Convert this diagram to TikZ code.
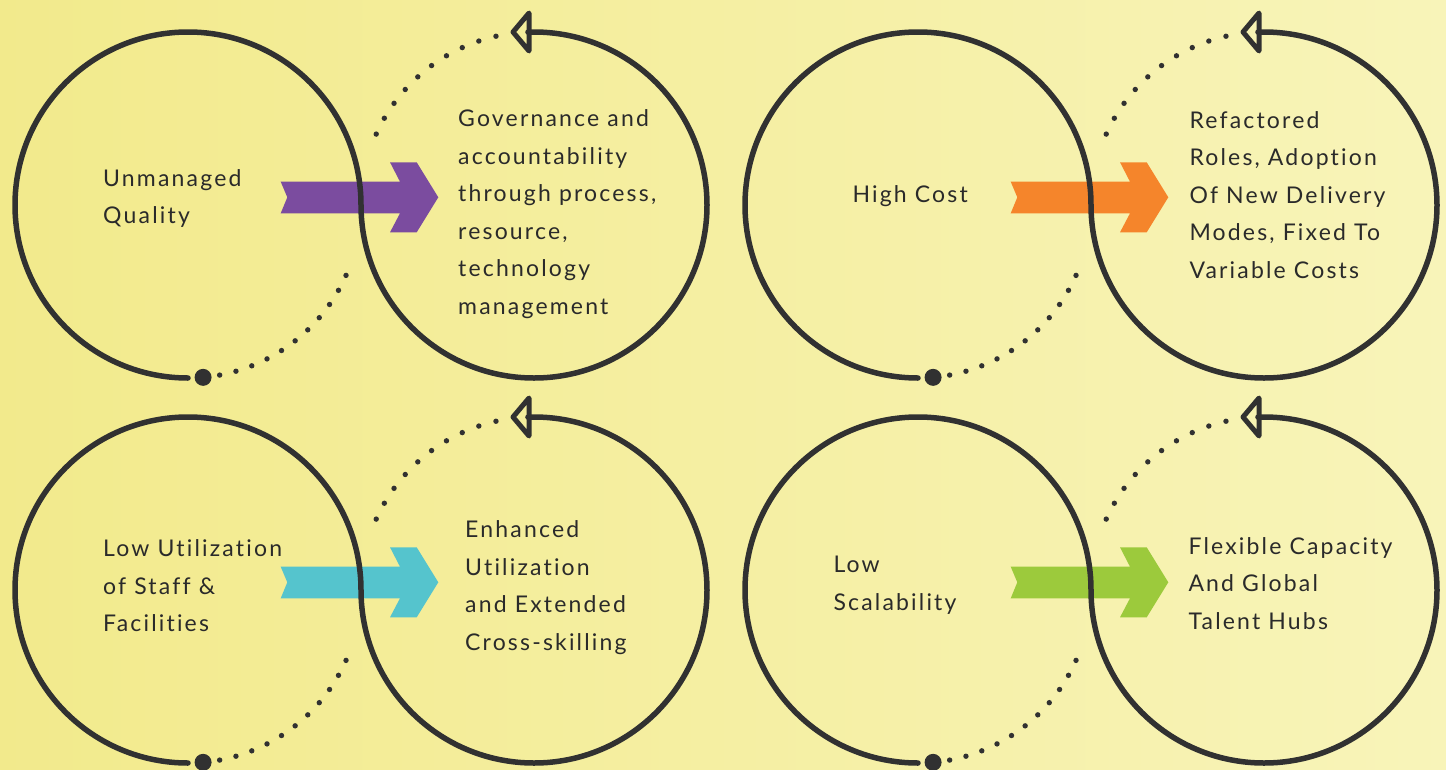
\documentclass[tikz,border=0pt]{standalone}
\usepackage{fontspec}
\setmainfont{Lato}[LetterSpace=9.5,Ligatures=NoCommon]
\usetikzlibrary{calc}
\definecolor{lineGray}{HTML}{313131}
\definecolor{txtGray}{HTML}{2A2A2A}
\definecolor{qqpurple}{HTML}{7B4C9F}
\definecolor{qqorange}{HTML}{F5852B}
\definecolor{qqteal}{HTML}{55C4CD}
\definecolor{qqgreen}{HTML}{9CCA3C}
\definecolor{bgLeft}{HTML}{F2EA8C}
\definecolor{bgRight}{HTML}{F8F4B9}
\tikzset{
  loopline/.style={line width=5.5pt,color=lineGray,line cap=round,line join=round},
  tipline/.style={line width=5pt,color=lineGray,line join=round,line cap=round},
  txt/.style={anchor=base west,align=left,inner sep=0pt,font=\fontsize{23}{37.5}\selectfont,text=txtGray}
}

\begin{document}
\begin{tikzpicture}[x=1pt,y=-1pt]
            \useasboundingbox (0,0) rectangle (1446,769);
            \shade [left color=bgLeft,right color=bgRight] (0,0) rectangle (1446,769);
            % four loops, shifted copies of the first one
            \foreach \dx/\dy/\col in {0/0/qqpurple,730/0/qqorange,0/385/qqteal,730/385/qqgreen}{
              \begin{scope}[shift={(\dx,\dy)}]
                \fill [\col] (280.7,181.7) -- (400,181.7) -- (390,162.3) -- (416.7,162.3) -- (438.3,197.3) -- (416.7,232.3) -- (390,232.3) -- (400,213.3) -- (280.7,213.3) -- (287.3,197.3) -- cycle;
                \draw [loopline] (188,205) ++(90:173) arc (90:360:173) arc (180:-92:173);
                \draw [tipline] (529,13) -- (513,32) -- (529,51) -- cycle;
                \fill [lineGray] (188,205) ++(85:173) circle (8.5pt);
                \foreach \k in {1,...,11}
                  \fill [lineGray] (188,205) ++({85-\k*5.545}:173) circle (2.7pt);
                \foreach \k in {0,...,9}
                  \fill [lineGray] (534,205) ++({204.2+\k*5.9}:173) circle (2.7pt);
              \end{scope}
            }
            % texts: anchored at the baseline of their last line
            \node [txt] (unmanaged) at (103,223.5) {Unmanaged\\Quality};
            \node [txt] (governance) at (458,314.3) {Governance and\\accountability\\through process,\\resource,\\technology\\management};
            \node [txt] (highcost) at (852.3,202.3) {High Cost};
            \node [txt] (refactored) at (1189.3,278.3) {Refactored\\Roles, Adoption\\Of New Delivery\\Modes, Fixed To\\Variable Costs};
            \node [txt] (lowutil) at (103,631.7) {Low Utilization\\of Staff \&\\Facilities};
            \node [txt] (enhanced) at (465,650) {Enhanced\\Utilization\\and Extended\\Cross-skilling};
            \node [txt] (lowscale) at (833.3,610) {Low\\Scalability};
            \node [txt] (flexible) at (1188.3,629) {Flexible Capacity\\And Global\\Talent Hubs};
\end{tikzpicture}
\end{document}
